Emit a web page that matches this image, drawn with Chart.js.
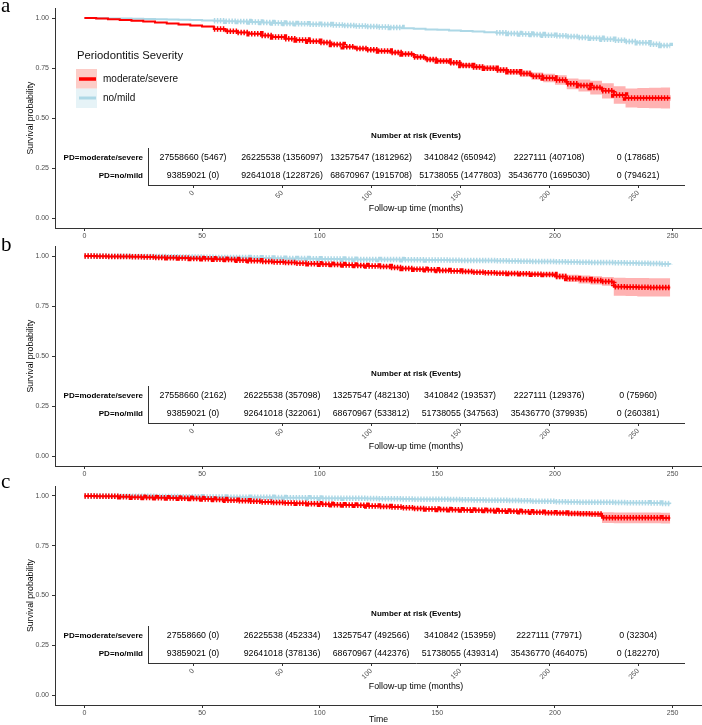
<!DOCTYPE html>
<html>
<head>
<meta charset="utf-8">
<script src="https://cdn.jsdelivr.net/npm/chart.js@4.4.0/dist/chart.umd.min.js"></script>
<style>
  body { margin: 0; background: #fff; }
  #wrap { position: relative; width: 702px; height: 725px; overflow: hidden; }
  #wrap canvas { position: absolute; left: 0; }
</style>
</head>
<body>
<div id="wrap"></div>
<script>
// ================== Data ==================
const seriesNames = ["moderate/severe", "no/mild"];
const legendTitle = "Periodontitis Severity";

const months = [0, 5, 10, 15, 20, 25, 30, 35, 40, 45,
  50, 55, 60, 65, 70, 75, 80, 85, 90, 95,
  100, 105, 110, 115, 120, 125, 130, 135, 140, 145,
  150, 155, 160, 165, 170, 175, 180, 185, 190, 195,
  200, 205, 210, 215, 220, 225, 230, 235, 240, 245,
  249];

const xTicks = [0, 50, 100, 150, 200, 250];
const yTicks = [0, 0.25, 0.5, 0.75, 1];

// panel a
const aModSev = [1.000, 0.997, 0.994, 0.990, 0.986, 0.982, 0.977, 0.972, 0.967, 0.962,
  0.957, 0.945, 0.934, 0.928, 0.921, 0.913, 0.905, 0.896, 0.890, 0.884,
  0.877, 0.868, 0.856, 0.847, 0.841, 0.835, 0.828, 0.820, 0.805, 0.793,
  0.785, 0.776, 0.763, 0.755, 0.749, 0.740, 0.731, 0.722, 0.709, 0.700,
  0.690, 0.671, 0.662, 0.652, 0.636, 0.615, 0.600, 0.600, 0.600, 0.600,
  0.600];
const aModSevCI = [0.000, 0.001, 0.001, 0.001, 0.002, 0.002, 0.002, 0.002, 0.003, 0.003,
  0.003, 0.003, 0.004, 0.004, 0.004, 0.004, 0.005, 0.005, 0.005, 0.005,
  0.006, 0.006, 0.007, 0.007, 0.008, 0.008, 0.009, 0.009, 0.010, 0.010,
  0.011, 0.011, 0.012, 0.012, 0.013, 0.013, 0.014, 0.016, 0.018, 0.021,
  0.024, 0.027, 0.030, 0.034, 0.038, 0.044, 0.048, 0.050, 0.051, 0.052,
  0.052];
const aNoMild = [1.000, 0.999, 0.998, 0.997, 0.996, 0.995, 0.994, 0.993, 0.991, 0.990,
  0.988, 0.986, 0.984, 0.982, 0.980, 0.977, 0.975, 0.973, 0.971, 0.969,
  0.967, 0.965, 0.962, 0.960, 0.957, 0.955, 0.952, 0.949, 0.946, 0.943,
  0.941, 0.938, 0.935, 0.932, 0.929, 0.926, 0.923, 0.920, 0.917, 0.914,
  0.911, 0.907, 0.903, 0.899, 0.894, 0.889, 0.883, 0.876, 0.869, 0.862,
  0.860];

// panel b
const bModSev = [1.000, 0.999, 0.998, 0.997, 0.996, 0.995, 0.993, 0.991, 0.990, 0.988,
  0.986, 0.984, 0.982, 0.979, 0.976, 0.973, 0.970, 0.967, 0.964, 0.961,
  0.959, 0.957, 0.955, 0.953, 0.950, 0.947, 0.942, 0.938, 0.934, 0.931,
  0.928, 0.925, 0.922, 0.919, 0.916, 0.914, 0.912, 0.911, 0.909, 0.907,
  0.898, 0.888, 0.882, 0.878, 0.873, 0.846, 0.845, 0.844, 0.843, 0.843,
  0.843];
const bModSevCI = [0.000, 0.001, 0.001, 0.001, 0.001, 0.001, 0.001, 0.001, 0.001, 0.002,
  0.002, 0.002, 0.002, 0.002, 0.002, 0.002, 0.003, 0.003, 0.003, 0.003,
  0.003, 0.003, 0.003, 0.004, 0.004, 0.004, 0.004, 0.004, 0.005, 0.005,
  0.005, 0.005, 0.006, 0.006, 0.006, 0.007, 0.007, 0.008, 0.009, 0.010,
  0.014, 0.018, 0.020, 0.021, 0.022, 0.045, 0.045, 0.046, 0.046, 0.046,
  0.046];
const bNoMild = [1.000, 1.000, 0.999, 0.999, 0.998, 0.998, 0.997, 0.996, 0.995, 0.995,
  0.994, 0.993, 0.992, 0.992, 0.991, 0.990, 0.989, 0.988, 0.987, 0.986,
  0.985, 0.985, 0.984, 0.983, 0.983, 0.982, 0.982, 0.981, 0.981, 0.980,
  0.980, 0.979, 0.978, 0.978, 0.977, 0.976, 0.975, 0.974, 0.973, 0.972,
  0.971, 0.970, 0.969, 0.968, 0.967, 0.966, 0.965, 0.964, 0.962, 0.960,
  0.958];

// panel c
const cModSev = [1.000, 0.999, 0.998, 0.996, 0.994, 0.992, 0.991, 0.990, 0.988, 0.987,
  0.985, 0.982, 0.979, 0.976, 0.973, 0.970, 0.967, 0.965, 0.963, 0.961,
  0.958, 0.956, 0.955, 0.953, 0.950, 0.947, 0.944, 0.941, 0.937, 0.934,
  0.932, 0.931, 0.930, 0.928, 0.927, 0.925, 0.923, 0.921, 0.918, 0.916,
  0.914, 0.912, 0.911, 0.909, 0.891, 0.890, 0.890, 0.890, 0.890, 0.889,
  0.889];
const cModSevCI = [0.000, 0.001, 0.001, 0.001, 0.001, 0.001, 0.001, 0.001, 0.001, 0.001,
  0.001, 0.002, 0.002, 0.002, 0.002, 0.002, 0.002, 0.002, 0.003, 0.003,
  0.003, 0.003, 0.003, 0.003, 0.003, 0.004, 0.004, 0.004, 0.004, 0.004,
  0.005, 0.005, 0.005, 0.005, 0.005, 0.006, 0.006, 0.006, 0.008, 0.009,
  0.010, 0.011, 0.012, 0.012, 0.027, 0.027, 0.027, 0.027, 0.027, 0.027,
  0.027];
const cNoMild = [1.000, 1.000, 0.999, 0.999, 0.998, 0.998, 0.997, 0.997, 0.996, 0.996,
  0.995, 0.995, 0.994, 0.994, 0.993, 0.993, 0.992, 0.991, 0.991, 0.990,
  0.989, 0.989, 0.988, 0.988, 0.987, 0.986, 0.986, 0.985, 0.984, 0.984,
  0.983, 0.982, 0.981, 0.980, 0.979, 0.978, 0.977, 0.976, 0.974, 0.973,
  0.971, 0.970, 0.969, 0.968, 0.968, 0.967, 0.966, 0.966, 0.965, 0.962,
  0.960];

// where the censor "+" marks sit (months)
const aModCensor = [[55, 249]];
const aNoCensor = [[55, 135], [175, 249]];
const bModCensor = [[0, 249]];
const bNoCensor = [[0, 249]];
const cModCensor = [[0, 249]];
const cNoCensor = [[0, 249]];

// risk table
const riskMonths = [0, 50, 100, 150, 200, 250];
const atRiskMod = [27558660, 26225538, 13257547, 3410842, 2227111, 0];
const atRiskNo = [93859021, 92641018, 68670967, 51738055, 35436770, 0];
const aEventsMod = [5467, 1356097, 1812962, 650942, 407108, 178685];
const aEventsNo = [0, 1228726, 1915708, 1477803, 1695030, 794621];
const bEventsMod = [2162, 357098, 482130, 193537, 129376, 75960];
const bEventsNo = [0, 322061, 533812, 347563, 379935, 260381];
const cEventsMod = [0, 452334, 492566, 153959, 77971, 32304];
const cEventsNo = [0, 378136, 442376, 439314, 464075, 182270];

// ================== Style ==================
const FONT = "'Liberation Sans', Arial, Helvetica, sans-serif";
const RED = "#FF0000";
const BLUE = "#ADD8E6";
const BAND = "rgba(255, 0, 0, 0.3)";
const AXIS = "#333333";
const TICK_TXT = "#4D4D4D";

const panels = [
  { letter: "a", top: 0, height: 240, base: 12, mod: aModSev, modCI: aModSevCI, no: aNoMild,
    modCensor: aModCensor, noCensor: aNoCensor, evMod: aEventsMod, evNo: aEventsNo, legend: true, xTitle: "" },
  { letter: "b", top: 238, height: 240, base: 13, mod: bModSev, modCI: bModSevCI, no: bNoMild,
    modCensor: bModCensor, noCensor: bNoCensor, evMod: bEventsMod, evNo: bEventsNo, legend: false, xTitle: "" },
  { letter: "c", top: 478, height: 247, base: 10, mod: cModSev, modCI: cModSevCI, no: cNoMild,
    modCensor: cModCensor, noCensor: cNoCensor, evMod: cEventsMod, evNo: cEventsNo, legend: false, xTitle: "Time" }
];

// ================== Helpers ==================
function stepPoints(vals) {
  return months.map((m, i) => ({ x: m, y: vals[i] }));
}

function censorPoints(vals, ranges) {
  return months.map((m, i) => ({
    x: m,
    y: ranges.some(r => m >= r[0] && m <= r[1]) ? vals[i] : null
  }));
}

function makeCanvas(top, height) {
  const c = document.createElement("canvas");
  c.width = 702;
  c.height = height;
  c.style.top = top + "px";
  document.getElementById("wrap").appendChild(c);
  return c;
}

// letter + legend on the main panel
const panelDecor = {
  id: "panelDecor",
  afterDraw(chart, args, opts) {
    const ctx = chart.ctx;
    ctx.save();
    ctx.fillStyle = "#000";
    ctx.textAlign = "left";
    ctx.textBaseline = "alphabetic";
    ctx.font = "21px 'Liberation Serif', 'Times New Roman', serif";
    ctx.fillText(opts.letter, 1, opts.base);

    if (opts.legend) {
      ctx.textBaseline = "middle";
      ctx.fillStyle = "#111";
      ctx.font = "11.3px " + FONT;
      ctx.fillText(legendTitle, 77, 56);

      ctx.fillStyle = "rgba(250, 128, 114, 0.4)";
      ctx.fillRect(76, 69, 21, 19.5);
      ctx.fillStyle = "rgba(173, 216, 230, 0.3)";
      ctx.fillRect(76, 88.5, 21, 19.5);

      ctx.lineCap = "butt";
      ctx.strokeStyle = RED;
      ctx.lineWidth = 3.5;
      ctx.beginPath(); ctx.moveTo(79, 79); ctx.lineTo(96, 79); ctx.stroke();
      ctx.strokeStyle = BLUE;
      ctx.lineWidth = 3;
      ctx.beginPath(); ctx.moveTo(79, 98); ctx.lineTo(96, 98); ctx.stroke();

      ctx.fillStyle = "#111";
      ctx.font = "10px " + FONT;
      ctx.fillText(seriesNames[0], 103, 79);
      ctx.fillText(seriesNames[1], 103, 98);
    }
    ctx.restore();
  }
};

// numbers inside the risk table
const riskText = {
  id: "riskText",
  afterDraw(chart, args, opts) {
    const ctx = chart.ctx;
    const x = chart.scales.x, y = chart.scales.y;
    const area = chart.chartArea;
    ctx.save();
    ctx.fillStyle = "#000";
    ctx.textAlign = "center";
    ctx.textBaseline = "middle";
    ctx.font = "bold 8px " + FONT;
    ctx.fillText("Number at risk (Events)", (area.left + area.right) / 2, area.top - 12.5);

    ctx.font = "8.8px " + FONT;
    const rows = [[atRiskMod, opts.evMod], [atRiskNo, opts.evNo]];
    rows.forEach((r, ri) => {
      riskMonths.forEach((m, i) => {
        ctx.fillText(r[0][i] + " (" + r[1][i] + ")", x.getPixelForValue(m), y.getPixelForValue(ri));
      });
    });
    ctx.restore();
  }
};

// ================== Main KM plots ==================
function drawPanel(p) {
  const canvas = makeCanvas(p.top, p.height);
  const lower = p.mod.map((v, i) => v - p.modCI[i]);
  const upper = p.mod.map((v, i) => Math.min(1, v + p.modCI[i]));

  new Chart(canvas, {
    type: "line",
    data: {
      datasets: [
        { data: stepPoints(p.mod), borderColor: RED, borderWidth: 2, stepped: true, pointRadius: 0, order: 1 },
        { data: censorPoints(p.mod, p.modCensor), borderColor: RED, borderWidth: 5.5, borderDash: [1.5, 1.5],
          borderCapStyle: "butt", stepped: true, pointRadius: 0, spanGaps: false, order: 0 },
        { data: stepPoints(p.no), borderColor: BLUE, borderWidth: 2, stepped: true, pointRadius: 0, order: 3 },
        { data: censorPoints(p.no, p.noCensor), borderColor: BLUE, borderWidth: 5.5, borderDash: [1.5, 1.5],
          borderCapStyle: "butt", stepped: true, pointRadius: 0, spanGaps: false, order: 2 },
        { data: stepPoints(lower), borderWidth: 0, stepped: true, pointRadius: 0, fill: false, order: 5 },
        { data: stepPoints(upper), borderWidth: 0, stepped: true, pointRadius: 0, fill: "-1",
          backgroundColor: BAND, order: 4 }
      ]
    },
    options: {
      responsive: false,
      animation: false,
      events: [],
      layout: { padding: { top: 8, right: 0, left: 0, bottom: 0 } },
      plugins: {
        legend: { display: false },
        tooltip: { enabled: false },
        panelDecor: { letter: p.letter, base: p.base, legend: p.legend }
      },
      scales: {
        x: {
          type: "linear",
          min: -12.5,
          max: 262.5,
          afterBuildTicks: s => { s.ticks = xTicks.map(v => ({ value: v })); },
          afterFit: s => { s.height = p.xTitle ? 20 : 12; },
          grid: { drawOnChartArea: false, drawTicks: true, tickLength: 3, color: AXIS },
          border: { display: true, color: AXIS, width: 1 },
          ticks: { color: TICK_TXT, font: { family: FONT, size: 7 }, padding: 1, maxRotation: 0, autoSkip: false },
          title: { display: !!p.xTitle, text: p.xTitle, color: "#000", font: { family: FONT, size: 8.7 }, padding: 0 }
        },
        y: {
          min: -0.05,
          max: 1.05,
          afterBuildTicks: s => { s.ticks = yTicks.map(v => ({ value: v })); },
          afterFit: s => { s.width = 55; },
          grid: { drawOnChartArea: false, drawTicks: true, tickLength: 3, color: AXIS },
          border: { display: true, color: AXIS, width: 1 },
          ticks: { color: TICK_TXT, font: { family: FONT, size: 7 }, padding: 3, callback: v => v.toFixed(2) },
          title: { display: true, text: "Survival probability", color: "#000",
                   font: { family: FONT, size: 8.7 }, padding: { top: 25, bottom: 0 } }
        }
      }
    },
    plugins: [panelDecor]
  });
}

// ================== Risk table insets ==================
function drawRiskTable(p) {
  const canvas = makeCanvas(p.top + 128, 86);
  new Chart(canvas, {
    type: "scatter",
    data: { datasets: [] },
    options: {
      responsive: false,
      animation: false,
      events: [],
      layout: { padding: { top: 20.5, right: 18, left: 0, bottom: 0 } },
      plugins: {
        legend: { display: false },
        tooltip: { enabled: false },
        riskText: { evMod: p.evMod, evNo: p.evNo }
      },
      scales: {
        x: {
          type: "linear",
          min: -25.3,
          max: 275.8,
          afterBuildTicks: s => { s.ticks = riskMonths.map(v => ({ value: v })); },
          afterFit: s => { s.height = 29; },
          grid: { drawOnChartArea: false, drawTicks: true, tickLength: 3, color: AXIS },
          border: { display: true, color: AXIS, width: 1 },
          ticks: { color: TICK_TXT, font: { family: FONT, size: 7 }, padding: 1, minRotation: 45, maxRotation: 45, autoSkip: false },
          title: { display: true, text: "Follow-up time (months)", color: "#000", font: { family: FONT, size: 8.8 }, padding: 0 }
        },
        y: {
          type: "category",
          labels: seriesNames.map(n => "PD=" + n),
          offset: true,
          afterFit: s => { s.width = 148; },
          grid: { display: false, drawTicks: false },
          border: { display: true, color: AXIS, width: 1 },
          ticks: { color: "#000", font: { family: FONT, size: 8, weight: "bold" }, padding: 5 }
        }
      }
    },
    plugins: [riskText]
  });
}

// ================== Init ==================
panels.forEach(p => {
  drawPanel(p);
  drawRiskTable(p);
});
</script>
</body>
</html>
